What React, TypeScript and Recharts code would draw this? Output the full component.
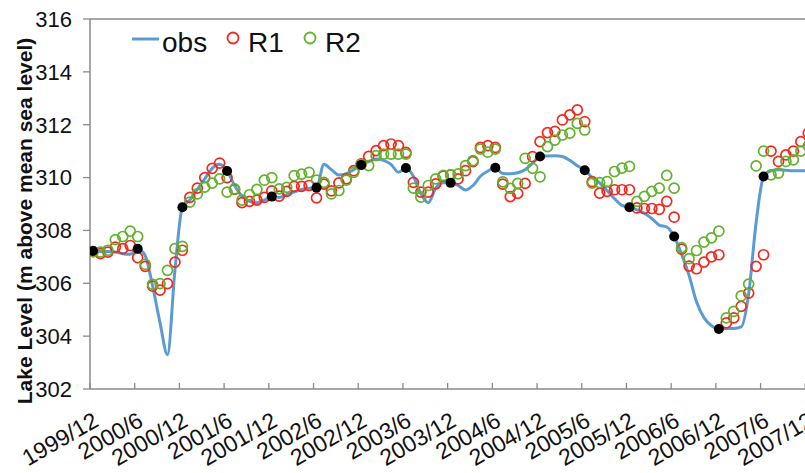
import { ComposedChart, Line, XAxis, YAxis, Legend, ReferenceLine } from 'recharts';

// half-year tick labels along the time axis (month index from 1999/12)
const TICK_LABELS = [
  '1999/12', '2000/6', '2000/12', '2001/6', '2001/12', '2002/6', '2002/12', '2003/6',
  '2003/12', '2004/6', '2004/12', '2005/6', '2005/12', '2006/6', '2006/12', '2007/6', '2007/12',
];
const TICK_MONTHS = [0, 6, 12, 18, 24, 30, 36, 42, 48, 54, 60, 66, 72, 78, 84, 90, 96];

// observed monthly lake level (m a.s.l.), month 0 = 1999/12
const OBS = [
  307.22, 307.2, 307.2, 307.18, 307.12, 307.1, 307.31, 307.05, 305.9, 304.5,
  303.3, 306.5, 308.88, 309.15, 309.55, 309.95, 310.35, 310.5, 310.25, 309.7,
  309.3, 309.1, 309.05, 309.15, 309.28, 309.25, 309.35, 309.45, 309.55, 309.6,
  309.62, 310.5, 310.3, 310.1, 310.15, 310.3, 310.48, 310.6, 310.7, 310.65,
  310.5, 310.2, 310.36, 310.05, 309.4, 309.05, 309.6, 309.8, 309.8, 309.7,
  309.53, 309.7, 310.05, 310.25, 310.37, 310.15, 310.14, 310.18, 310.3, 310.55,
  310.8, 310.82, 310.83, 310.8, 310.65, 310.45, 310.28, 310.0, 309.8, 309.5,
  309.2, 308.95, 308.88, 308.78, 308.65, 308.45, 308.2, 308.13, 307.77, 307.1,
  306.3, 305.3, 304.7, 304.4, 304.27, 304.29, 304.29, 304.35, 305.6, 308.3,
  310.04, 310.26, 310.3, 310.28, 310.26, 310.26, 310.26,
];

// model run R1
const R1 = [
  307.2, 307.12, 307.18, 307.37, 307.31, 307.43, 306.97, 306.64, 305.89, 305.74,
  305.99, 306.8, 307.25, 309.25, 309.6, 310.0, 310.35, 310.55, 310.0, 309.55,
  309.05, 309.1, 309.15, 309.25, 309.5, 309.3, 309.48, 309.67, 309.67, 309.7,
  309.23, 309.75, 309.5, 309.8, 309.95, 310.26, 310.52, 310.8, 311.02, 311.21,
  311.27, 311.21, 310.95, 309.82, 309.45, 309.45, 309.76, 310.05, 310.1, 309.95,
  310.26, 310.6, 311.14, 311.21, 311.14, 309.75, 309.28, 309.4, 309.78, 310.79,
  311.36, 311.7, 311.75, 312.18, 312.37, 312.56, 312.12, 309.85, 309.41, 309.48,
  309.54, 309.54, 309.54, 308.85, 308.83, 308.83, 308.8, 309.1, 308.5, 307.29,
  306.65, 306.55, 306.8, 307.0, 307.08, 304.5, 304.69, 305.13, 305.63, 306.64,
  307.08, 311.0, 310.61, 310.86, 311.0, 311.36, 311.68,
];

// model run R2
const R2 = [
  307.2, 307.18, 307.25, 307.65, 307.77, 307.97, 307.77, 306.72, 305.96, 305.99,
  306.49, 307.31, 307.4, 309.07, 309.38, 309.64, 309.79, 309.95, 309.45, 309.57,
  309.15, 309.35, 309.55, 309.9, 310.0, 309.57, 309.63, 310.07, 310.13, 310.2,
  309.9, 309.82, 309.38, 309.51, 309.9, 310.2, 310.5, 310.45, 310.83, 310.89,
  310.89, 310.89, 310.89, 309.6, 309.26, 309.7, 309.95, 310.08, 310.1, 310.14,
  310.45, 310.64, 311.08, 310.96, 311.08, 309.84, 309.59, 309.78, 310.73, 310.35,
  310.03, 311.17, 311.42, 311.61, 311.68, 312.05, 311.8, 309.79, 309.81, 309.85,
  310.23, 310.36, 310.42, 309.1, 309.29, 309.48, 309.6, 310.08, 309.6, 307.35,
  306.93, 307.24, 307.56, 307.72, 307.97, 304.69, 304.94, 305.52, 305.97, 310.44,
  311.0, 310.1, 310.17, 310.61, 310.67, 311.0, 311.2,
];

// months where the observed level was used to restart the runs
const RESTART_MONTHS = [0, 6, 12, 18, 24, 30, 36, 42, 48, 54, 60, 66, 72, 78, 84, 90];

const Y_TICKS = [302, 304, 306, 308, 310, 312, 314, 316];

// readings are taken a little into each month
const DAY_OFFSET = 0.4;

const BLUE = '#5b9bd5';
const RED = '#f5281e';
const GREEN = '#62b22d';
const AXIS = '#8a8a8a';
const FONT = '"Liberation Sans", Arial, sans-serif';

const rows = OBS.map((v, i) => ({
  t: i + DAY_OFFSET,
  obs: v,
  r1: R1[i],
  r2: R2[i],
  restart: RESTART_MONTHS.includes(i) ? v : null,
}));

const DateTick = ({ x, y, payload }: any) => {
  const label = TICK_LABELS[TICK_MONTHS.indexOf(payload.value)];
  return (
    <g>
      <line x1={x} y1={y} x2={x} y2={y - 6} stroke={AXIS} strokeWidth={1.3} />
      <text
        x={0}
        y={0}
        transform={`translate(${x + 10},${y + 36}) rotate(-30)`}
        textAnchor="end"
        fontSize={23}
        fill="#111"
        fontFamily={FONT}
      >
        {label}
      </text>
    </g>
  );
};

const LegendKey = () => (
  <svg width={260} height={44} style={{ display: 'block', fontFamily: FONT }}>
    <line x1={4} y1={21} x2={31} y2={21} stroke={BLUE} strokeWidth={3} />
    <text x={34} y={34} fontSize={28} fill="#111">obs</text>
    <circle cx={105} cy={20} r={5.5} fill="none" stroke={RED} strokeWidth={1.8} />
    <text x={120} y={34} fontSize={28} fill="#111">R1</text>
    <circle cx={182} cy={20} r={5.5} fill="none" stroke={GREEN} strokeWidth={1.8} />
    <text x={197} y={34} fontSize={28} fill="#111">R2</text>
  </svg>
);

const AxisTitle = () => (
  <text
    transform="translate(32,221) rotate(-90)"
    textAnchor="middle"
    fontSize={21}
    fontWeight="bold"
    fill="#111"
    fontFamily={FONT}
  >
    Lake Level (m above mean sea level)
  </text>
);

export default function App() {
  return (
    <div style={{ position: 'absolute', left: 0, top: 0, width: 805, height: 473, overflow: 'hidden', background: '#fff' }}>
      <ComposedChart
        width={850}
        height={473}
        data={rows}
        margin={{ top: 19, right: 0, bottom: 0, left: 0 }}
        style={{ fontFamily: FONT }}
      >
        <ReferenceLine y={316} stroke={AXIS} strokeWidth={1.5} />
        <XAxis
          type="number"
          dataKey="t"
          domain={[0, 102]}
          ticks={TICK_MONTHS}
          interval={0}
          height={84}
          tickSize={0}
          tickMargin={0}
          tickLine={false}
          axisLine={{ stroke: AXIS, strokeWidth: 1.5 }}
          tick={<DateTick />}
          allowDataOverflow
        />
        <YAxis
          domain={[302, 316]}
          ticks={Y_TICKS}
          interval={0}
          width={90}
          tickSize={7}
          tickMargin={11}
          axisLine={{ stroke: AXIS, strokeWidth: 1.5 }}
          tickLine={{ stroke: AXIS, strokeWidth: 1.3 }}
          tick={{ fontSize: 22, fill: '#111', fontFamily: FONT }}
          label={{ content: () => <AxisTitle /> }}
        />
        <Legend
          layout="horizontal"
          verticalAlign="middle"
          align="center"
          content={() => <LegendKey />}
          wrapperStyle={{ top: 18, left: 128, width: 260, height: 44 }}
        />
        <Line
          dataKey="obs"
          type="monotone"
          stroke={BLUE}
          strokeWidth={3}
          dot={false}
          activeDot={false}
          isAnimationActive={false}
        />
        <Line
          dataKey="r1"
          stroke="none"
          strokeWidth={0}
          dot={{ r: 5, fill: 'none', stroke: RED, strokeWidth: 1.7 }}
          activeDot={false}
          isAnimationActive={false}
        />
        <Line
          dataKey="r2"
          stroke="none"
          strokeWidth={0}
          dot={{ r: 5, fill: 'none', stroke: GREEN, strokeWidth: 1.7 }}
          activeDot={false}
          isAnimationActive={false}
        />
        <Line
          dataKey="restart"
          stroke="none"
          strokeWidth={0}
          dot={{ r: 5, fill: '#000', stroke: 'none' }}
          activeDot={false}
          isAnimationActive={false}
        />
      </ComposedChart>
    </div>
  );
}
